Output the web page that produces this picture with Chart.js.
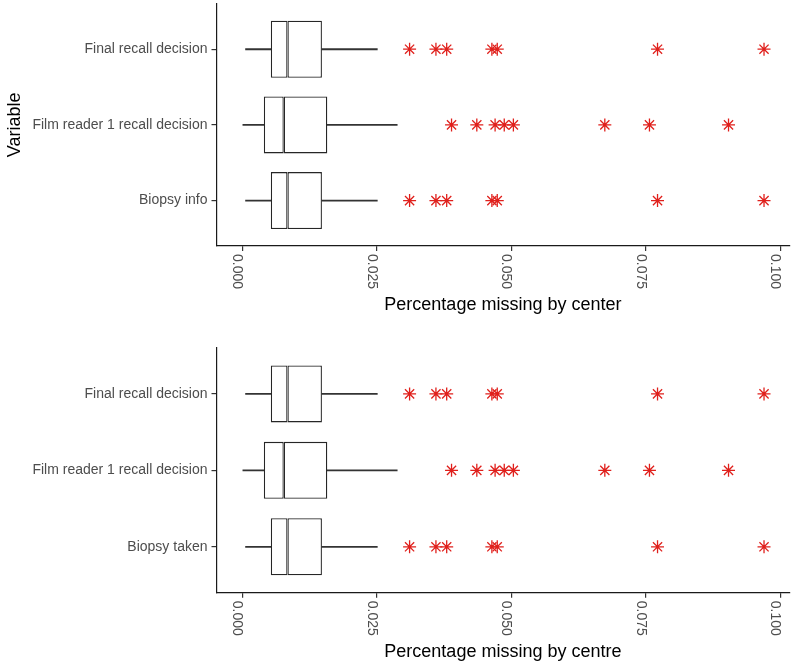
<!DOCTYPE html>
<html><head><meta charset="utf-8">
<script src="https://cdn.jsdelivr.net/npm/chart.js@4/dist/chart.umd.min.js"></script>
<style>
html,body{margin:0;padding:0;background:#fff;width:800px;height:669px;overflow:hidden;position:relative}
canvas{position:absolute;left:0}
#c1{top:-4px}
#c2{top:330px}
</style>
</head><body>
<canvas id="c1" width="800" height="334"></canvas>
<canvas id="c2" width="800" height="339"></canvas>
<script>
// ---- data ----
const topLabels = ['Final recall decision', 'Film reader 1 recall decision', 'Biopsy info'];
const bottomLabels = ['Final recall decision', 'Film reader 1 recall decision', 'Biopsy taken'];
const positions = [1, 2, 3];
// [lower whisker, Q1, median, Q3, upper whisker]
const finalRecallStats = [0.0006, 0.0053, 0.0084, 0.0148, 0.0251];
const filmReaderStats  = [0.0001, 0.0040, 0.0077, 0.0158, 0.0288];
const biopsyStats      = [0.0006, 0.0053, 0.0084, 0.0148, 0.0251];
const finalRecallOutliers = [0.0311, 0.0360, 0.0380, 0.0464, 0.0474, 0.0772, 0.0970];
const filmReaderOutliers  = [0.0389, 0.0436, 0.0470, 0.0487, 0.0504, 0.0674, 0.0757, 0.0904];
const biopsyOutliers      = [0.0311, 0.0360, 0.0380, 0.0464, 0.0474, 0.0772, 0.0970];
const xTicks = [0, 0.025, 0.05, 0.075, 0.1];
const xTickLabels = ['0.000', '0.025', '0.050', '0.075', '0.100'];

Chart.defaults.font.family = '"Liberation Sans", Arial, Helvetica, sans-serif';
Chart.defaults.devicePixelRatio = 1;

const AXIS = '#1a1a1a', TICK = '#333333', TEXT = '#4d4d4d', RED = '#e0201c';

function buildDatasets(statsList, outlierList) {
  const seg = (a, b) => statsList.map((s, i) => ({ x: [s[a], s[b]], y: positions[i] }));
  const whisker = { type: 'bar', barThickness: 1.2, backgroundColor: '#333', borderWidth: 0, grouped: false };
  const box = { type: 'bar', barThickness: 57, backgroundColor: '#fff', borderColor: '#262626', borderWidth: 1.3, borderSkipped: false, grouped: false, inflateAmount: 0 };
  const pts = [];
  outlierList.forEach((arr, i) => arr.forEach(v => pts.push({ x: v, y: positions[i] })));
  return [
    { data: pts, type: 'scatter', pointStyle: 'star', radius: 6.5, hoverRadius: 6.5,
      borderColor: RED, backgroundColor: RED, borderWidth: 1.3, showLine: false },
    Object.assign({ data: seg(1, 2) }, box),
    Object.assign({ data: seg(2, 3) }, box),
    Object.assign({ data: seg(0, 1) }, whisker),
    Object.assign({ data: seg(3, 4) }, whisker)
  ];
}

const rotatedXLabels = {
  id: 'rotatedXLabels',
  afterDraw(chart) {
    const s = chart.scales.x, ctx = chart.ctx;
    ctx.save();
    ctx.font = '14px "Liberation Sans", Arial, sans-serif';
    ctx.fillStyle = TEXT;
    ctx.textAlign = 'left';
    ctx.textBaseline = 'middle';
    s.ticks.forEach((t, i) => {
      const px = s.getPixelForValue(t.value);
      ctx.save();
      ctx.translate(px - 5, s.top + 8);
      ctx.rotate(Math.PI / 2);
      ctx.fillText(xTickLabels[i], 0, 0);
      ctx.restore();
    });
    ctx.restore();
  }
};

function makeChart(id, labels, statsList, outlierList, xTitle, yTitle, pad, xHeight, titlePad) {
  return new Chart(document.getElementById(id), {
    type: 'bar',
    data: { datasets: buildDatasets(statsList, outlierList) },
    plugins: [rotatedXLabels],
    options: {
      responsive: false,
      animation: false,
      indexAxis: 'y',
      events: [],
      layout: { padding: pad },
      plugins: { legend: { display: false }, tooltip: { enabled: false } },
      scales: {
        x: {
          type: 'linear', position: 'bottom', min: -0.0048, max: 0.1017, offset: false,
          afterBuildTicks: s => { s.ticks = xTicks.map(v => ({ value: v })); },
          afterFit: s => { s.height = xHeight; s.paddingLeft = 0; s.paddingRight = 0; },
          ticks: { display: false },
          grid: { offset: false, drawOnChartArea: false, drawTicks: true, tickLength: 5, color: TICK, lineWidth: 1.2 },
          border: { display: true, color: AXIS, width: 1.2 },
          title: { display: true, text: xTitle, color: '#000', font: { size: 18 }, padding: { top: 0, bottom: titlePad } }
        },
        y: {
          type: 'linear', position: 'left', reverse: true, min: 0.4, max: 3.6, offset: false,
          afterBuildTicks: s => { s.ticks = positions.map(v => ({ value: v })); },
          afterFit: s => { s.width = 216.5; s.paddingTop = 0; s.paddingBottom = 0; },
          ticks: { autoSkip: false, color: TEXT, font: { size: 14 }, padding: 4,
            callback: (v, i) => labels[i] },
          grid: { offset: false, drawOnChartArea: false, drawTicks: true, tickLength: 5, color: TICK, lineWidth: 1.2 },
          border: { display: true, color: AXIS, width: 1.2 },
          title: { display: !!yTitle, text: yTitle || '', color: '#000', font: { size: 18 }, padding: { top: 4.2 } }
        }
      }
    }
  });
}

makeChart('c1', topLabels,
  [finalRecallStats, filmReaderStats, biopsyStats],
  [finalRecallOutliers, filmReaderOutliers, biopsyOutliers],
  'Percentage missing by center', 'Variable',
  { top: 3.8, right: 10.7, bottom: 0, left: 0 }, 84, 14.5);

makeChart('c2', bottomLabels,
  [finalRecallStats, filmReaderStats, biopsyStats],
  [finalRecallOutliers, filmReaderOutliers, biopsyOutliers],
  'Percentage missing by centre', '',
  { top: 18, right: 10.7, bottom: 0, left: 0 }, 76.3, 6);
</script>
</body></html>
